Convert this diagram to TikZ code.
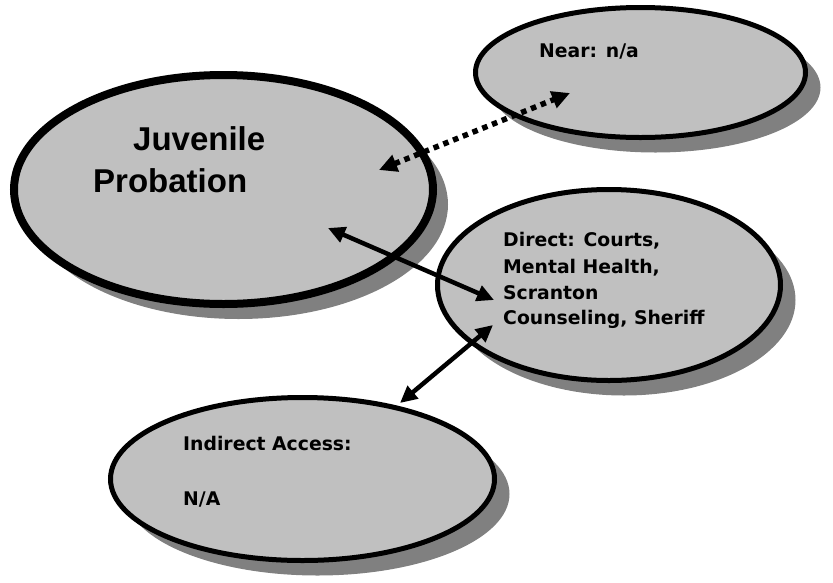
\documentclass[tikz,border=0pt]{standalone}
\usepackage{fontspec}
\usetikzlibrary{arrows.meta,shapes.geometric,shadows}
\newfontfamily\juvfont{Liberation Sans}
\newfontfamily\labfont{DejaVu Sans}
\definecolor{ellfill}{RGB}{192,192,192}
\definecolor{shadowgray}{RGB}{128,128,128}
\tikzset{
  bubble/.style={ellipse, draw=black, fill=ellfill, inner sep=0pt, line width=5pt,
    drop shadow={shadow xshift=15pt, shadow yshift=-15pt, fill=shadowgray, opacity=1}},
  bigtext/.style={anchor=base west, inner sep=0pt, font=\juvfont\bfseries\fontsize{33}{40}\selectfont},
  smalltext/.style={anchor=base west, inner sep=0pt, font=\labfont\bfseries\fontsize{18.8}{22}\selectfont},
  link/.style={line width=4.5pt, {Triangle[length=17pt,width=16pt]}-{Triangle[length=17pt,width=16pt]}},
  dotlink/.style={line width=5.5pt, dash pattern=on 5.5pt off 5pt, {Triangle[length=18pt,width=17pt]}-{Triangle[length=18pt,width=17pt]}}
}
\begin{document}
\begin{tikzpicture}[x=1pt,y=-1pt]
\useasboundingbox (0,0) rectangle (833,582);
% ellipses
\node[bubble, line width=8pt, minimum width=419pt, minimum height=229pt] (juv) at (223.5,189.5) {};
\node[bubble, minimum width=330pt, minimum height=130pt] (near) at (640.5,72.5) {};
\node[bubble, minimum width=343pt, minimum height=191pt] (direct) at (609,285) {};
\node[bubble, minimum width=384pt, minimum height=163pt] (indirect) at (302.5,479) {};
% texts
\node[bigtext] (juv1) at (133,150) {Juvenile};
\node[bigtext] (juv2) at (93,192) {Probation};
\node[smalltext] (near1) at (539,57) {Near: n/a};
\node[smalltext] (dir1) at (503,246) {Direct: Courts,};
\node[smalltext] (dir2) at (503,273) {Mental Health,};
\node[smalltext] (dir3) at (503,299) {Scranton};
\node[smalltext] (dir4) at (503,324) {Counseling, Sheriff};
\node[smalltext] (ind1) at (183,450) {Indirect Access:};
\node[smalltext] (ind2) at (183,505) {N/A};
% arrow end points
\coordinate (a1) at (379,170);
\coordinate (a2) at (570,93);
\coordinate (b1) at (328,228);
\coordinate (b2) at (494,300);
\coordinate (c1) at (493,325);
\coordinate (c2) at (400,403);
\draw[dotlink] (a1) -- (a2);
\draw[link] (b1) -- (b2);
\draw[link] (c1) -- (c2);
\end{tikzpicture}
\end{document}
